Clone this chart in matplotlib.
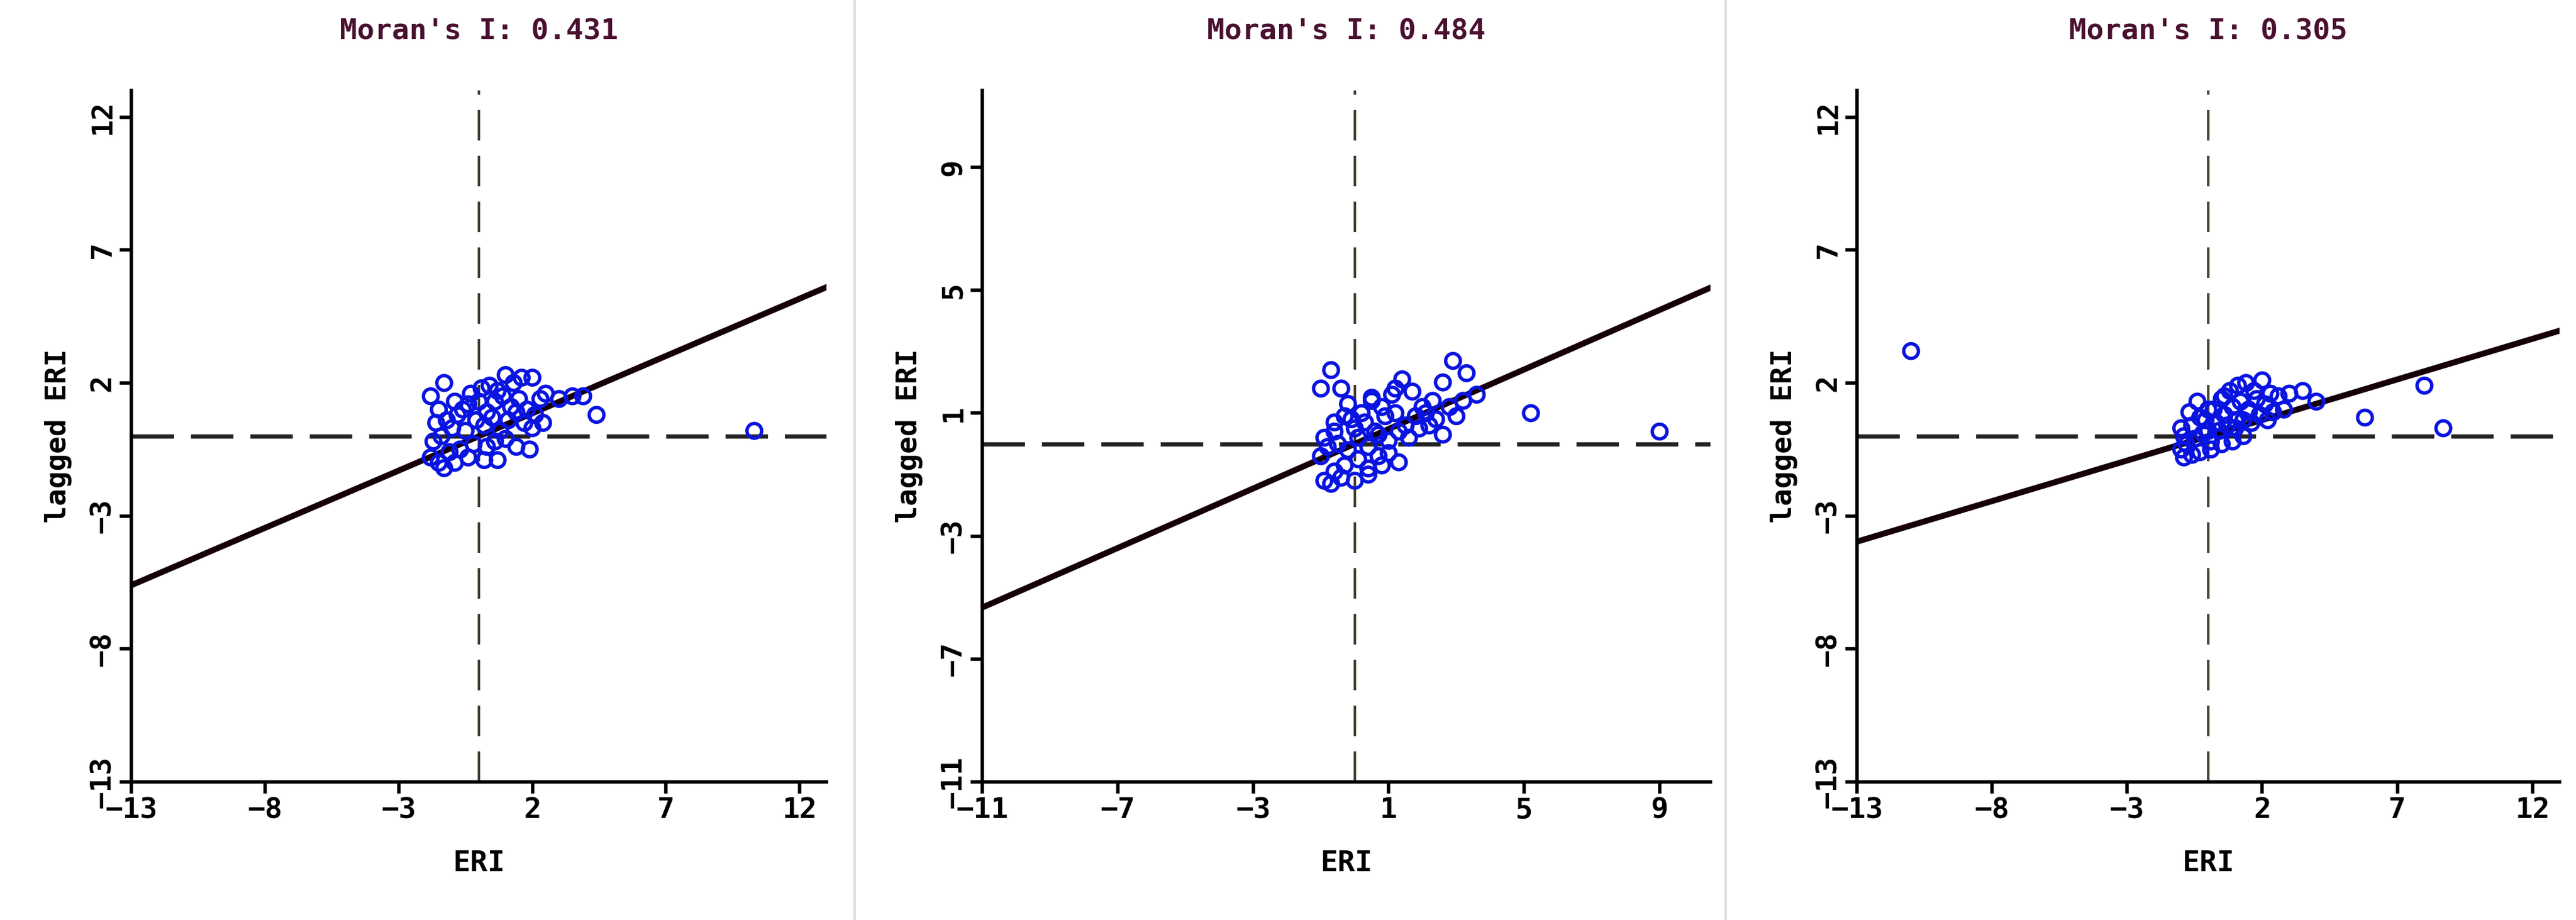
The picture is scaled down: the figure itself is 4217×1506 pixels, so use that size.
import matplotlib
matplotlib.use("Agg")
import matplotlib.pyplot as plt

titles = ["Moran's I: 0.431", "Moran's I: 0.484", "Moran's I: 0.305"]
slopes = [0.431, 0.484, 0.305]
xlims = [(-13, 13), (-11, 10.5), (-13, 13)]
ylims = [(-13, 13), (-11, 11.5), (-13, 13)]
ticks = [[-13, -8, -3, 2, 7, 12], [-11, -7, -3, 1, 5, 9], [-13, -8, -3, 2, 7, 12]]

x1 = [-1.8, -1.3, -1.5, -0.9, -0.6, -0.3, 0.1, 0.4, 0.7, 1.0, 1.3, 1.6, 2.0, 2.3, -1.6, -1.2, -0.8, -0.4, 0.0, 0.3, 0.6, 0.9, 1.2,
      1.5, 1.8, 2.1, 2.5, 3.0, 3.5, 3.9, 4.4, -1.7, -1.4, -1.0, -0.5, -0.1, 0.2, 0.5, 0.8, 1.1, 1.4, 1.7, 2.0, 2.4, -1.8, -1.5,
      -1.1, -0.7, -0.2, 0.3, 0.6, 1.0, 1.4, 1.9, -1.3, -0.9, -0.4, 0.2, 0.7, 10.3]
y1 = [1.5, 2.0, 1.0, 1.3, 1.0, 1.6, 1.8, 1.9, 1.7, 2.3, 2.0, 2.2, 2.2, 1.4, 0.5, 0.6, 0.8, 1.2, 1.3, 0.9, 1.3, 1.5, 1.1,
      1.4, 1.0, 0.8, 1.6, 1.4, 1.5, 1.5, 0.8, -0.2, 0.0, 0.3, 0.2, 0.6, 0.4, 0.7, 0.2, 0.6, 0.9, 0.5, 0.3, 0.5, -0.8, -1.0,
      -0.6, -0.5, -0.3, -0.4, -0.2, -0.1, -0.4, -0.5, -1.2, -1.0, -0.8, -0.9, -0.9, 0.2]

x2 = [-1.0, -0.7, -0.4, -0.1, 0.2, 0.5, 0.8, 1.1, 1.4, 1.7, 2.0, 2.3, 2.6, 2.9, 3.3, -0.9, -0.6, -0.3, 0.0, 0.3, 0.6, 0.9, 1.2,
      1.5, 1.8, 2.1, 2.4, 2.8, 3.2, 3.6, -1.0, -0.8, -0.5, -0.2, 0.1, 0.4, 0.7, 1.0, 1.3, 1.6, 1.9, 2.2, -0.9, -0.6, -0.3, 0.1,
      0.4, 0.7, 1.0, 1.3, -0.7, -0.4, 0.0, 0.4, 0.8, -0.6, -0.2, 0.5, 1.2, 2.6, 3.0, 5.2, 9.0]
y2 = [1.8, 2.4, 1.8, 0.8, 1.0, 1.4, 1.2, 1.6, 2.1, 1.7, 1.2, 1.4, 2.0, 2.7, 2.3, 0.2, 0.4, 0.9, 0.5, 0.7, 0.4, 0.9, 1.0,
      0.6, 0.9, 1.0, 0.8, 1.2, 1.4, 1.6, -0.4, -0.1, 0.0, -0.2, 0.2, -0.1, 0.3, 0.1, 0.4, 0.2, 0.5, 0.6, -1.2, -0.9, -0.7, -0.5,
      -0.8, -0.4, -0.3, -0.6, -1.3, -1.1, -1.2, -1.0, -0.7, 0.7, 1.3, 1.5, 1.8, 0.3, 0.9, 1.0, 0.4]

x3 = [-1.0, -0.7, -0.4, -0.1, 0.2, 0.5, 0.8, 1.1, 1.4, 1.7, 2.0, 2.3, 2.6, 3.0, 3.5, 4.0, -0.9, -0.6, -0.3, 0.0, 0.3, 0.6, 0.9,
      1.2, 1.5, 1.8, 2.1, 2.4, 2.8, -1.0, -0.8, -0.5, -0.2, 0.1, 0.4, 0.7, 1.0, 1.3, 1.6, 1.9, 2.2, -0.9, -0.6, -0.3, 0.1, 0.5,
      0.9, 1.3, 0.0, 0.6, 1.0, 1.5, -11.0, 5.8, 8.0, 8.7]
y3 = [0.3, 0.9, 1.3, 0.6, 1.0, 1.4, 1.7, 1.9, 2.0, 1.7, 2.1, 1.6, 1.5, 1.6, 1.7, 1.3, 0.0, 0.4, 0.7, 0.2, 0.5, 0.8, 1.1,
      1.3, 1.0, 1.4, 1.2, 0.9, 1.0, -0.5, -0.3, -0.1, 0.1, -0.2, 0.2, 0.4, 0.3, 0.6, 0.5, 0.8, 0.6, -0.8, -0.7, -0.6, -0.5, -0.3,
      -0.2, 0.0, 1.0, 1.5, 0.6, 0.9, 3.2, 0.7, 1.9, 0.3]

xs = [x1, x2, x3]
ys = [y1, y2, y3]

fig = plt.figure(figsize=(42.17, 15.06), dpi=100)
rects = [(215, 1353), (1608, 2800), (3040, 4190)]
font = {"family": "DejaVu Sans Mono", "weight": "bold"}
for i in range(3):
    l, r = rects[i]
    ax = fig.add_axes([l / 4217, 1 - 1280 / 1506, (r - l) / 4217, (1280 - 148) / 1506])
    ax.set_xlim(*xlims[i]); ax.set_ylim(*ylims[i])
    ax.spines["top"].set_visible(False); ax.spines["right"].set_visible(False)
    for s in ["left", "bottom"]:
        ax.spines[s].set_linewidth(4)
    ax.set_xticks(ticks[i]); ax.set_yticks(ticks[i])
    ax.tick_params(width=4, length=14, labelsize=34)
    for lab in ax.get_xticklabels() + ax.get_yticklabels():
        lab.set_fontfamily("DejaVu Sans Mono"); lab.set_fontweight("bold")
    plt.setp(ax.get_yticklabels(), rotation=90, va="center")
    ax.axvline(0, color="#444433", lw=3, ls=(0, (12, 6)))
    ax.axhline(0, color="#222222", lw=5, ls=(0, (10, 4)))
    ax.plot(xlims[i], [slopes[i] * v for v in xlims[i]], color="#150008", lw=7)
    ax.scatter(xs[i], ys[i], s=300, facecolors="none", edgecolors="#0a14e0", linewidths=4, zorder=3)
    ax.set_title(titles[i], fontsize=34, color="#4a1030", pad=60, **font)
    ax.set_xlabel("ERI", fontsize=34, labelpad=30, **font)
    ax.set_ylabel("lagged ERI", fontsize=34, labelpad=20, **font)
for xp in [1399, 2825]:
    fig.add_artist(plt.Line2D([xp / 4217] * 2, [0, 1], color="#dddddd", lw=3))
fig.savefig("out.png", dpi=100)
